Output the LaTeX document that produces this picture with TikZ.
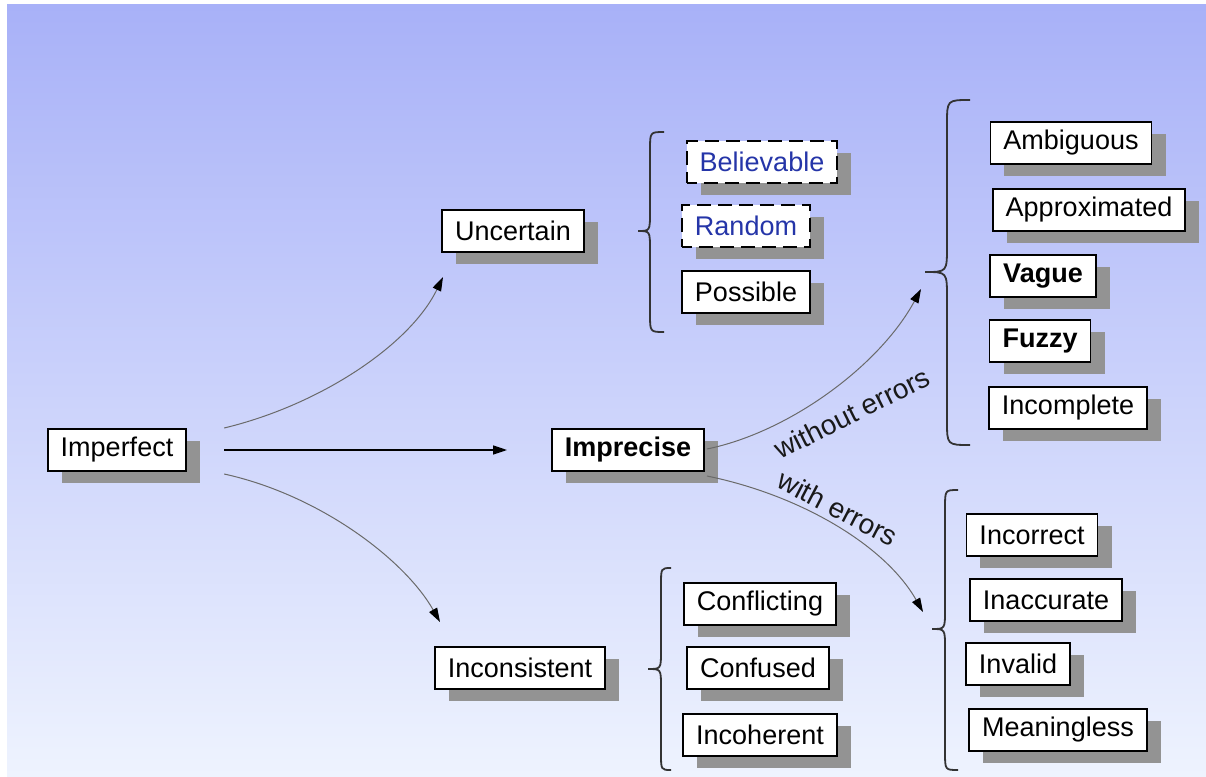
\documentclass[tikz,border=0pt]{standalone}
\usepackage{fontspec}
\setmainfont{Liberation Sans}
\usetikzlibrary{arrows.meta,shadows,calc}

\definecolor{bgtop}{HTML}{A8B1F8}
\definecolor{bgbottom}{HTML}{EEF3FE}
\definecolor{shadowgray}{HTML}{939393}
\definecolor{termblue}{HTML}{2535A8}
\definecolor{linkgray}{HTML}{6A6A6A}

\begin{document}
\begin{tikzpicture}[x=1pt,y=-1pt,
  term/.style={draw=black, line width=1.8pt, fill=white, inner xsep=13pt,
    inner ysep=0pt, minimum height=42pt, font=\fontsize{27}{32}\selectfont,
    drop shadow={shadow xshift=14pt, shadow yshift=-12pt, fill=shadowgray, opacity=1}},
  keyterm/.style={term, font=\fontsize{27}{32}\selectfont\bfseries},
  dashedterm/.style={term, dash pattern=on 14pt off 7pt, dash phase=4pt, text=termblue},
  link/.style={draw=linkgray, line width=1pt,
    -{Triangle[length=14pt,width=9pt,color=black]}},
  mainlink/.style={draw=black, line width=1.5pt,
    -{Triangle[length=14pt,width=9pt,color=black]}},
  bracket/.style={draw=black!80, line width=1.8pt},
  edgelabel/.style={font=\fontsize{28}{32}\selectfont, text=black!90, inner sep=0pt}
]

% canvas and graded background
\fill[white] (0,0) rectangle (1206,776);
\shade[top color=bgtop, bottom color=bgbottom] (7,5) rectangle (1206,776);
\useasboundingbox (0,0) rectangle (1206,776);

% main categories
\node[term] (imperfect) at (117,450) {Imperfect};
\node[term] (uncertain) at (513,231) {Uncertain};
\node[keyterm] (imprecise) at (628,450) {Imprecise};
\node[term] (inconsistent) at (520,668) {Inconsistent};

% kinds of uncertainty
\node[dashedterm] (believable) at (762,162) {Believable};
\node[dashedterm] (random) at (746,226) {Random};
\node[term] (possible) at (746,292) {Possible};

% imprecision without errors
\node[term] (ambiguous) at (1071,143) {Ambiguous};
\node[term] (approximated) at (1089,210) {Approximated};
\node[keyterm] (vague) at (1043,276) {Vague};
\node[keyterm] (fuzzy) at (1040,341) {Fuzzy};
\node[term] (incomplete) at (1068,408) {Incomplete};

% imprecision with errors
\node[term] (incorrect) at (1032,535) {Incorrect};
\node[term] (inaccurate) at (1046,600) {Inaccurate};
\node[term] (invalid) at (1018,664) {Invalid};
\node[term] (meaningless) at (1058,730) {Meaningless};

% kinds of inconsistency
\node[term] (conflicting) at (760,604) {Conflicting};
\node[term] (confused) at (758,668) {Confused};
\node[term] (incoherent) at (760,735) {Incoherent};

% curly brackets grouping the sub-kinds
\draw[bracket] (664,132) .. controls (650,132) .. (650,150) -- (650,212)
  .. controls (650,231) .. (638,231) .. controls (650,231) .. (650,250)
  -- (650,314) .. controls (650,332) .. (664,332);
\draw[bracket] (970,100) .. controls (947,100) .. (947,124) -- (947,246)
  .. controls (947,272) .. (925,272) .. controls (947,272) .. (947,298)
  -- (947,421) .. controls (947,445) .. (970,445);
\draw[bracket] (958,490) .. controls (945,490) .. (945,508) -- (945,610)
  .. controls (945,629) .. (932,629) .. controls (945,629) .. (945,648)
  -- (945,752) .. controls (945,770) .. (958,770);
\draw[bracket] (671,568) .. controls (661,568) .. (661,585) -- (661,651)
  .. controls (661,669) .. (648,669) .. controls (661,669) .. (661,687)
  -- (661,753) .. controls (661,770) .. (671,770);

% arrow ends at the brackets
\coordinate (uncertain-in) at (443,277);
\coordinate (inconsistent-in) at (440,622);
\coordinate (noerr-in) at (921,289);
\coordinate (err-in) at (923,612);

% connectors
\draw[mainlink, shorten <=37pt, shorten >=44pt] (imperfect.east) -- (imprecise.west);
\draw[link] ($(imperfect.east)+(37,-22)$) .. controls (320,405) and (410,345) .. (uncertain-in);
\draw[link] ($(imperfect.east)+(37,24)$) .. controls (320,495) and (405,560) .. (inconsistent-in);
\draw[link] ($(imprecise.east)+(2,-1)$) .. controls (790,432) and (880,365) .. (noerr-in);
\draw[link] ($(imprecise.east)+(2,26)$) .. controls (800,495) and (885,545) .. (err-in);

% connector labels
\node[edgelabel, rotate=26.5] (noerr-label) at (852,413) {without errors};
\node[edgelabel, rotate=-27.5] (err-label) at (838,508) {with errors};

\end{tikzpicture}
\end{document}
